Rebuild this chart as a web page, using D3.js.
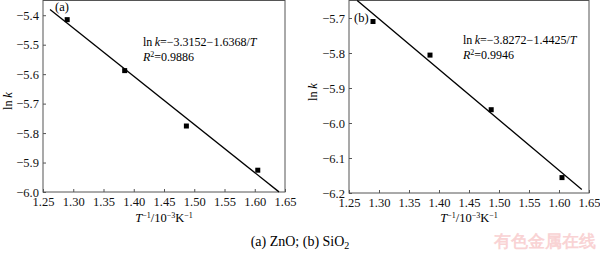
<!DOCTYPE html>
<html>
<head>
<meta charset="utf-8">
<script src="https://cdn.jsdelivr.net/npm/d3@7"></script>
<style>
  body { margin: 0; background: #fff; }
  svg, svg text { font-family: "Liberation Serif", "Times New Roman", "DejaVu Serif", serif; }
</style>
</head>
<body>
<svg id="chart" width="600" height="257"></svg>
<script>
// x values (10^-3 K^-1)
var invT = [1.29, 1.385, 1.487, 1.605];
// ln k values
var lnkZnO = [-5.415, -5.588, -5.776, -5.926];
var lnkSiO2 = [-5.71, -5.806, -5.962, -6.156];
// fitted lines: ln k = a + b * x
var fitZnO = {a: -3.3152, b: -1.6368, x0: 1.2616, x1: 1.640};
var fitSiO2 = {a: -3.8272, b: -1.4425, x0: 1.2636, x1: 1.638};
var xTicks = [1.25, 1.30, 1.35, 1.40, 1.45, 1.50, 1.55, 1.60, 1.65];
var yTicksZnO = [-5.4, -5.5, -5.6, -5.7, -5.8, -5.9, -6.0];
var yTicksSiO2 = [-5.7, -5.8, -5.9, -6.0, -6.1, -6.2];

var svg = d3.select("#chart");
var SERIF = "Liberation Serif, Times New Roman, serif";

function fmtY(d) { return d3.format(".1f")(d).replace("-", "\u2212"); }

function panel(opt) {
  var x = d3.scaleLinear().domain([1.25, 1.65]).range([opt.left, opt.right]);
  var y = d3.scaleLinear().domain(opt.ydom).range([opt.bottom, opt.top]);
  var g = svg.append("g").attr("font-family", SERIF);

  // frame
  g.append("rect")
    .attr("x", opt.left).attr("y", opt.top)
    .attr("width", opt.right - opt.left).attr("height", opt.bottom - opt.top)
    .attr("fill", "none").attr("stroke", "#555").attr("stroke-width", 1);

  var xa = g.append("g").attr("transform", "translate(0," + opt.bottom + ")")
    .call(d3.axisBottom(x).tickValues(xTicks).tickSizeInner(-3).tickSizeOuter(0)
      .tickPadding(5).tickFormat(d3.format(".2f")));
  var ya = g.append("g").attr("transform", "translate(" + opt.left + ",0)")
    .call(d3.axisLeft(y).tickValues(opt.yticks).tickSizeInner(-3).tickSizeOuter(0)
      .tickPadding(4).tickFormat(fmtY));
  [xa, ya].forEach(function(a) {
    a.attr("font-family", SERIF).attr("font-size", 12.5);
    a.select(".domain").remove();
    a.selectAll("line").attr("stroke", "#555");
    a.selectAll("text").attr("fill", "#111");
  });

  // fit line
  var line = d3.line().x(function(d) { return x(d); }).y(function(d) { return y(opt.fit.a + opt.fit.b * d); });
  g.append("path").datum([opt.fit.x0, opt.fit.x1]).attr("d", line)
    .attr("fill", "none").attr("stroke", "#000").attr("stroke-width", 1.3);

  // points
  g.selectAll("rect.pt").data(invT).enter().append("rect").attr("class", "pt")
    .attr("x", function(d) { return x(d) - 2.5; })
    .attr("y", function(d, i) { return y(opt.vals[i]) - 2.5; })
    .attr("width", 5).attr("height", 5).attr("fill", "#000");

  // panel label
  g.append("text").attr("x", opt.tag[0]).attr("y", opt.tag[1]).attr("font-size", 12.5).text(opt.tagText);

  // equation
  var eq = g.append("text").attr("x", opt.eq[0]).attr("y", opt.eq[1]).attr("font-size", 12);
  eq.append("tspan").text("ln\u2009");
  eq.append("tspan").attr("font-style", "italic").text("k");
  eq.append("tspan").text("=\u2212" + opt.eqText + "/");
  eq.append("tspan").attr("font-style", "italic").text("T");
  var r = g.append("text").attr("x", opt.eq[0]).attr("y", opt.eq[1] + 15).attr("font-size", 12);
  r.append("tspan").attr("font-style", "italic").text("R");
  r.append("tspan").attr("font-size", 8).attr("dy", -4).text("2");
  r.append("tspan").attr("dy", 4).text("=" + opt.r2);

  // y title
  var yt = g.append("text").attr("transform", "translate(" + opt.ylab[0] + "," + opt.ylab[1] + ") rotate(-90)")
    .attr("text-anchor", "middle").attr("font-size", 12.5);
  yt.append("tspan").text("ln\u2009");
  yt.append("tspan").attr("font-style", "italic").text("k");

  // x title
  var xt = g.append("text").attr("x", (opt.left + opt.right) / 2).attr("y", 222)
    .attr("text-anchor", "middle").attr("font-size", 12.5);
  xt.append("tspan").attr("font-style", "italic").text("T");
  xt.append("tspan").attr("font-size", 8).attr("dy", -4).text("\u22121");
  xt.append("tspan").attr("dy", 4).text("/10");
  xt.append("tspan").attr("font-size", 8).attr("dy", -4).text("\u22123");
  xt.append("tspan").attr("dy", 4).text("K");
  xt.append("tspan").attr("font-size", 8).attr("dy", -4).text("\u22121");
}

panel({left: 43, right: 285, top: 0.5, bottom: 192, ydom: [-6.0, -5.35], yticks: yTicksZnO,
  vals: lnkZnO, fit: fitZnO, tag: [55, 11], tagText: "(a)", eq: [143, 46],
  eqText: "3.3152\u22121.6368", r2: "0.9886", ylab: [12, 101]});
panel({left: 349, right: 589, top: 0.5, bottom: 193, ydom: [-6.2, -5.65], yticks: yTicksSiO2,
  vals: lnkSiO2, fit: fitSiO2, tag: [354, 22], tagText: "(b)", eq: [463, 44],
  eqText: "3.8272\u22121.4425", r2: "0.9946", ylab: [317, 92]});

// caption
var cap = svg.append("text").attr("x", 300).attr("y", 246).attr("text-anchor", "middle")
  .attr("font-family", SERIF).attr("font-size", 14);
cap.append("tspan").text("(a) ZnO; (b) SiO");
cap.append("tspan").attr("font-size", 10).attr("dy", 3).text("2");

// watermark
svg.append("text").attr("x", 596).attr("y", 247).attr("text-anchor", "end")
  .attr("font-family", "Noto Sans CJK SC").attr("font-weight", "bold").attr("font-size", 17)
  .attr("fill", "#f9d3d4").text("有色金属在线");
</script>
</body>
</html>
